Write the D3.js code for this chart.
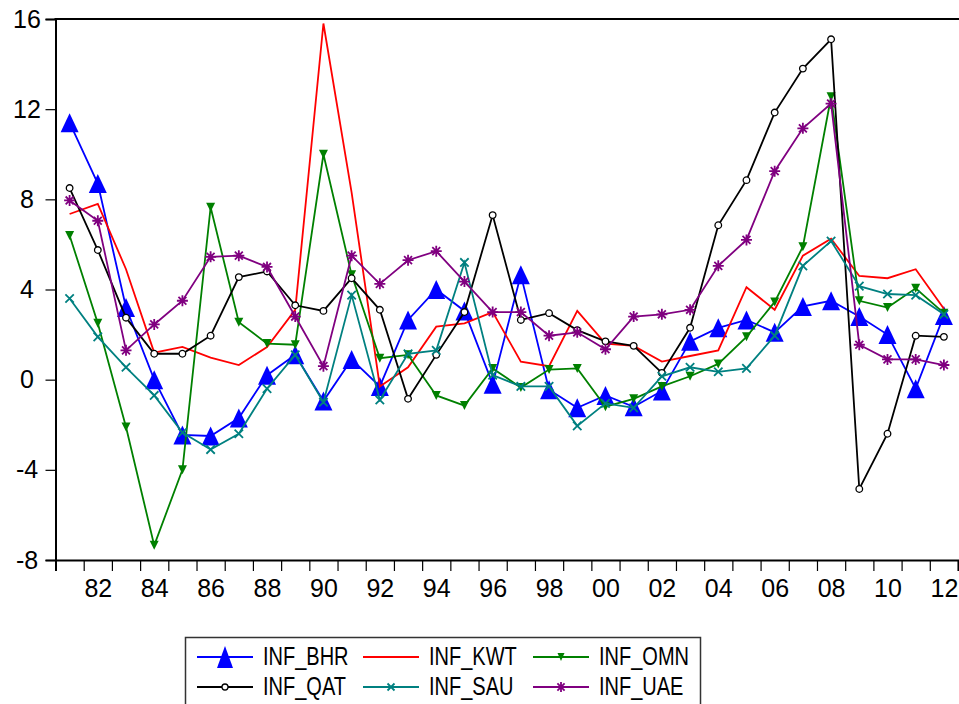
<!DOCTYPE html>
<html lang="en">
<head>
<meta charset="UTF-8">
<title>GCC inflation</title>
<script src="https://d3js.org/d3.v7.min.js"></script>
<style>
    body{ margin:0; background:#fff; }
    .chart{ font-family: "Liberation Sans", Arial, sans-serif; }
    .chart text{ fill:#000; font-family: "Liberation Sans", Arial, sans-serif; }
</style>
</head>
<body>
<svg class="chart"></svg>
<script>
// data (annual inflation, %)
const years = d3.range(1981, 2013);
const infBHR = [11.4,8.7,3.2,0.0,-2.45,-2.5,-1.7,0.2,1.1,-0.95,0.9,-0.3,2.65,4.0,3.05,-0.2,4.65,-0.45,-1.25,-0.7,-1.2,-0.5,1.7,2.3,2.65,2.1,3.25,3.5,2.8,2.0,-0.4,2.85];
const infKWT = [7.35,7.8,4.9,1.2,1.45,0.98,0.65,1.45,3.1,15.8,8.3,-0.3,0.55,2.35,2.5,3.0,0.8,0.6,3.05,1.6,1.5,0.8,1.05,1.3,4.1,3.1,5.5,6.25,4.6,4.5,4.9,3.15];
const infOMN = [6.4,2.5,-2.1,-7.35,-4.0,7.65,2.55,1.6,1.55,10.0,4.65,0.95,1.1,-0.7,-1.15,0.5,-0.35,0.45,0.5,-1.2,-0.85,-0.3,0.15,0.7,1.9,3.45,5.9,12.55,3.5,3.2,4.05,2.95];
const infQAT = [8.5,5.75,2.75,1.15,1.15,1.95,4.55,4.8,3.3,3.05,4.5,3.1,-0.85,1.1,3.0,7.3,2.65,2.95,2.2,1.7,1.5,0.3,2.3,6.85,8.85,11.85,13.8,15.1,-4.85,-2.4,1.95,1.9];
const infSAU = [3.6,1.9,0.55,-0.7,-2.35,-3.1,-2.4,-0.4,1.1,-1.0,3.75,-0.9,1.15,1.3,5.2,0.2,-0.3,-0.3,-2.05,-1.05,-1.25,0.15,0.55,0.35,0.5,1.95,5.05,6.15,4.15,3.8,3.75,2.9];
const infUAE = [7.95,7.05,1.3,2.45,3.5,5.45,5.5,5.0,2.8,0.6,5.5,4.25,5.3,5.7,4.35,3.0,3.0,1.95,2.1,1.35,2.8,2.9,3.1,5.05,6.2,9.25,11.15,12.25,1.55,0.9,0.9,0.65];
const yTicks = [-8,-4,0,4,8,12,16];
const xLabelYears = d3.range(1982, 2013, 2);

const names = ['INF_BHR','INF_KWT','INF_OMN','INF_QAT','INF_SAU','INF_UAE'];
const seriesValues = [infBHR, infKWT, infOMN, infQAT, infSAU, infUAE];

const W = 959, H = 704;
const x = d3.scaleLinear().domain([1980.5, 2012.5]).range([55.5, 958]);
const y = d3.scaleLinear().domain([-8, 16]).range([560, 19]);

// marker paths (centred on the point)
const tri = (w,h,up) => up
    ? `M0,${-h/2}L${w/2},${h/2}L${-w/2},${h/2}Z`
    : `M0,${h/2}L${w/2},${-h/2}L${-w/2},${-h/2}Z`;
const cross = r => `M${-r},${-r}L${r},${r}M${-r},${r}L${r},${-r}`;
const star = r => {
    const a = r*0.72;
    return `M0,${-r}L0,${r}M${-r},0L${r},0M${-a},${-a}L${a},${a}M${-a},${a}L${a},${-a}`;
};

const styles = [
    {color:'#0000ff', mark:'poly', path:tri(18,19,true), lpath:tri(16,22,true)},
    {color:'#ff0000', mark:'none'},
    {color:'#008000', mark:'poly', path:tri(9,9,false), lpath:tri(7,8,false)},
    {color:'#000000', mark:'circle', r:3.3, lr:3},
    {color:'#008080', mark:'stroke', path:cross(4.2), lpath:cross(3.5)},
    {color:'#800080', mark:'stroke', path:star(5.5), lpath:star(5)}
];

const svg = d3.select('.chart').attr('width', W).attr('height', H);
svg.append('rect').attr('width', W).attr('height', H).attr('fill', '#fff');

// axes
const yAxis = d3.axisLeft(y).tickValues(yTicks).tickSize(10).tickPadding(0).tickFormat(d => String(d));
svg.append('g')
    .attr('transform', 'translate(55.5,0)')
    .call(yAxis)
    .call(g => g.select('.domain').attr('stroke-width', 2))
    .call(g => g.selectAll('.tick line').attr('stroke-width', 1.2))
    .call(g => g.selectAll('.tick text')
        .attr('x', -28.5).attr('text-anchor', 'middle')
        .style('font-size', '25px'));

const boundaries = d3.range(1980.5, 2013, 1);
svg.append('g')
    .attr('transform', 'translate(0,560)')
    .call(d3.axisBottom(x).tickValues(boundaries).tickSize(11).tickFormat(''))
    .call(g => g.select('.domain').attr('stroke-width', 2))
    .call(g => g.selectAll('.tick line').attr('stroke-width', 1.2));

svg.append('g')
    .attr('transform', 'translate(0,560)')
    .call(d3.axisBottom(x).tickValues(xLabelYears).tickSize(0).tickPadding(19)
        .tickFormat(d => String(d % 100).padStart(2, '0')))
    .call(g => g.select('.domain').remove())
    .call(g => g.selectAll('.tick text')
        .style('font-size', '25px'));

// top frame line
svg.append('line')
    .attr('x1', 54.5).attr('x2', 959).attr('y1', 19).attr('y2', 19)
    .attr('stroke', '#000').attr('stroke-width', 2);

const line = d3.line().x((d,i) => x(years[i])).y(d => y(d));

function drawMark(g, st, path, r){
    if(st.mark === 'poly'){
        g.append('path').attr('d', path).attr('fill', st.color).attr('stroke', 'none');
    } else if(st.mark === 'stroke'){
        g.append('path').attr('d', path).attr('fill', 'none').attr('stroke', st.color).attr('stroke-width', 1.8);
    } else if(st.mark === 'circle'){
        g.append('circle').attr('r', r).attr('fill', '#fff').attr('stroke', st.color).attr('stroke-width', 1.3);
    }
}

seriesValues.forEach((vals, k) => {
    const st = styles[k];
    const g = svg.append('g').attr('class', 'series');
    g.append('path')
        .datum(vals)
        .attr('d', line)
        .attr('fill', 'none')
        .attr('stroke', st.color)
        .attr('stroke-width', 1.8)
        .attr('stroke-linejoin', 'miter');
    if(st.mark !== 'none'){
        vals.forEach((v, i) => {
            const m = g.append('g').attr('transform', `translate(${x(years[i])},${y(v)})`);
            drawMark(m, st, st.path, st.r);
        });
    }
});

// legend
const lg = svg.append('g');
lg.append('rect')
    .attr('x', 185.5).attr('y', 637.5).attr('width', 515).attr('height', 80)
    .attr('fill', '#fff').attr('stroke', '#333').attr('stroke-width', 1.5);

const colX = [197, 363, 533];
const rowY = [657, 687];
names.forEach((name, k) => {
    const st = styles[k];
    const cx = colX[k % 3], cy = rowY[Math.floor(k / 3)];
    lg.append('line')
        .attr('x1', cx).attr('x2', cx + 56).attr('y1', cy).attr('y2', cy)
        .attr('stroke', st.color).attr('stroke-width', 2);
    if(st.mark !== 'none'){
        const m = lg.append('g').attr('transform', `translate(${cx + 28},${cy})`);
        drawMark(m, st, st.lpath, st.lr);
    }
    lg.append('text')
        .attr('transform', `translate(${cx + 66},${cy + 8}) scale(0.8,1.05)`)
        .style('font-size', '25px')
        .text(name);
});
</script>
</body>
</html>
